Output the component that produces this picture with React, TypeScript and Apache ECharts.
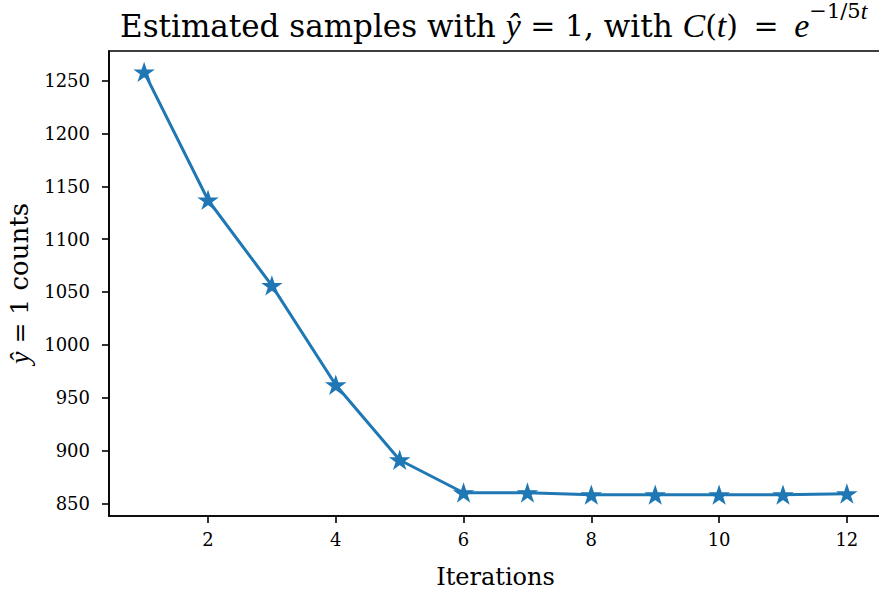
import React, { useEffect, useRef } from "react";
import * as echarts from "echarts";

const iterations = [1, 2, 3, 4, 5, 6, 7, 8, 9, 10, 11, 12];
const counts = [1258, 1137, 1056, 962, 891, 860, 860, 858, 858, 858, 858, 859];
const xTicks = [2, 4, 6, 8, 10, 12];
const yTicks = [850, 900, 950, 1000, 1050, 1100, 1150, 1200, 1250];

const SERIF = "DejaVu Serif";
const MATH = "Liberation Serif";
const BLUE = "#1f77b4";
const STAR =
  "path://M0,-1 L0.2245,-0.309 L0.951,-0.309 L0.363,0.118 L0.588,0.809 L0,0.382 L-0.588,0.809 L-0.363,0.118 L-0.951,-0.309 L-0.2245,-0.309 Z";

export default function App() {
  const ref = useRef<HTMLDivElement>(null);
  useEffect(() => {
    if (!ref.current) return;
    const chart = echarts.init(ref.current, null, { renderer: "svg" });
    const base = { color: "#000", fontWeight: "normal" };
    const titleRich = {
      n: { ...base, fontFamily: SERIF, fontSize: 31, lineHeight: 37 },
      m: { ...base, fontFamily: MATH, fontStyle: "italic", fontSize: 34, lineHeight: 37 },
      r: { ...base, fontFamily: SERIF, fontSize: 30, lineHeight: 37 },
      s: { ...base, fontFamily: SERIF, fontSize: 21, lineHeight: 26, padding: [0, 0, 29, 0] },
      si: { ...base, fontFamily: MATH, fontStyle: "italic", fontSize: 24, lineHeight: 26, padding: [0, 0, 29, 0] },
    };
    const yRich = {
      n: { ...base, fontFamily: SERIF, fontSize: 26, lineHeight: 30 },
      m: { ...base, fontFamily: MATH, fontStyle: "italic", fontSize: 28, lineHeight: 30 },
      r: { ...base, fontFamily: SERIF, fontSize: 25, lineHeight: 30 },
    };
    chart.setOption({
      animation: false,
      backgroundColor: "#fff",
      title: {
        text: "{n|Estimated samples with }{m|ŷ}{r| = 1}{n|, with }{m|C}{r|(}{m|t}{r|)\u2009 = \u2009}{m|e}{s|−1/5}{si|t}",
        left: 120,
        top: 7,
        padding: 0,
        textStyle: { fontWeight: "normal", rich: titleRich },
      },
      grid: {
        left: 109,
        top: 51,
        right: -3,
        bottom: 76,
        outerBoundsMode: "none",
        containLabel: false,
        show: true,
        borderColor: "#000",
        borderWidth: 1.6,
        backgroundColor: "transparent",
      },
      xAxis: {
        type: "value",
        min: 0.45,
        max: 12.55,
        name: "Iterations",
        nameLocation: "middle",
        nameGap: 49,
        nameTextStyle: { fontFamily: SERIF, fontSize: 24, color: "#000" },
        axisLine: { show: true, lineStyle: { color: "#000", width: 1.6 } },
        axisTick: { show: true, customValues: xTicks, length: 7, lineStyle: { color: "#000", width: 1.6 } },
        axisLabel: { customValues: xTicks, fontFamily: SERIF, fontSize: 18, color: "#000", margin: 14, formatter: (v: number) => String(v) },
        splitLine: { show: false },
      },
      yAxis: {
        type: "value",
        min: 838,
        max: 1278,
        name: "{m|ŷ}{r| = 1}{n| counts}",
        nameLocation: "middle",
        nameGap: 66,
        nameRotate: 90,
        nameTextStyle: { rich: yRich },
        axisLine: { show: true, lineStyle: { color: "#000", width: 1.6 } },
        axisTick: { show: true, customValues: yTicks, length: 7, lineStyle: { color: "#000", width: 1.6 } },
        axisLabel: { customValues: yTicks, fontFamily: SERIF, fontSize: 18, color: "#000", margin: 19, formatter: (v: number) => String(v) },
        splitLine: { show: false },
      },
      series: [
        {
          type: "line",
          data: iterations.map((x, i) => [x, counts[i]]),
          lineStyle: { color: BLUE, width: 3 },
          itemStyle: { color: BLUE, borderColor: BLUE, borderWidth: 1.5 },
          symbol: STAR,
          symbolSize: [17, 16],
          showSymbol: true,
          clip: false,
        },
      ],
    });
    return () => chart.dispose();
  }, []);
  return (
    <div
      ref={ref}
      style={{ position: "absolute", left: 0, top: 0, width: 879, height: 592, background: "#fff" }}
    />
  );
}
